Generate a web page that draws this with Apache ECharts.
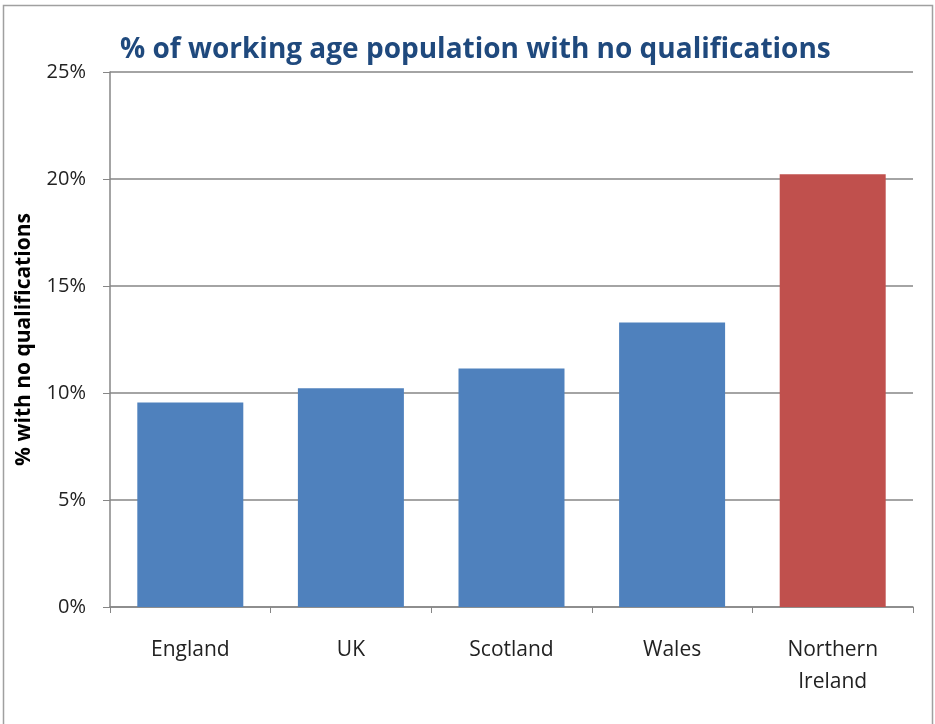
<!DOCTYPE html>
<html>
<head>
<meta charset="utf-8">
<script src="https://cdn.jsdelivr.net/npm/echarts@6/dist/echarts.min.js"></script>
<style>
html, body { margin: 0; padding: 0; background: #fff; }
#main { width: 935px; height: 724px; }
</style>
</head>
<body>
<div id="main"></div>
<script>
// data
var regions = ['England', 'UK', 'Scotland', 'Wales', 'Northern\nIreland'];
var noQual = [9.56, 10.22, 11.15, 13.30, 20.22];
var barColors = ['#4F81BD', '#4F81BD', '#4F81BD', '#4F81BD', '#C0504D'];

var myChart = echarts.init(document.getElementById('main'));

var option = {
    backgroundColor: '#fff',
    animation: false,
    title: {
        text: '% of working age population with no qualifications',
        left: 115,
        top: 31,
        textStyle: {
            fontFamily: 'Open Sans',
            fontWeight: 'bold',
            fontSize: 28,
            color: '#1F497D'
        }
    },
    graphic: [{
        type: 'rect',
        shape: { x: 3.5, y: 5.5, width: 929, height: 725 },
        style: { fill: null, stroke: '#A0A0A0', lineWidth: 1.5 },
        silent: true
    }],
    grid: {
        left: 110,
        right: 22,
        top: 72,
        bottom: 117
    },
    xAxis: {
        type: 'category',
        data: regions,
        axisLine: { lineStyle: { color: '#868686', width: 1.5 } },
        axisTick: { show: true, length: 6, lineStyle: { color: '#868686' } },
        axisLabel: {
            margin: 27,
            fontFamily: 'Open Sans',
            fontSize: 21,
            color: '#222',
            lineHeight: 32
        }
    },
    yAxis: {
        type: 'value',
        min: 0,
        max: 25,
        interval: 5,
        name: '% with no qualifications',
        nameLocation: 'middle',
        nameGap: 75,
        nameTextStyle: {
            fontFamily: 'Open Sans',
            fontWeight: 'bold',
            fontSize: 21,
            color: '#000'
        },
        axisLine: { show: true, lineStyle: { color: '#868686', width: 1.5 } },
        axisTick: { show: true, length: 7, lineStyle: { color: '#868686' } },
        axisLabel: {
            formatter: '{value}%',
            margin: 24,
            fontFamily: 'Open Sans',
            fontSize: 20,
            color: '#222'
        },
        splitLine: { lineStyle: { color: '#868686', width: 1.5 } }
    },
    series: [{
        type: 'bar',
        data: noQual.map(function (v, i) {
            return { value: v, itemStyle: { color: barColors[i] } };
        }),
        barCategoryGap: '34%'
    }]
};

myChart.setOption(option);
</script>
</body>
</html>
